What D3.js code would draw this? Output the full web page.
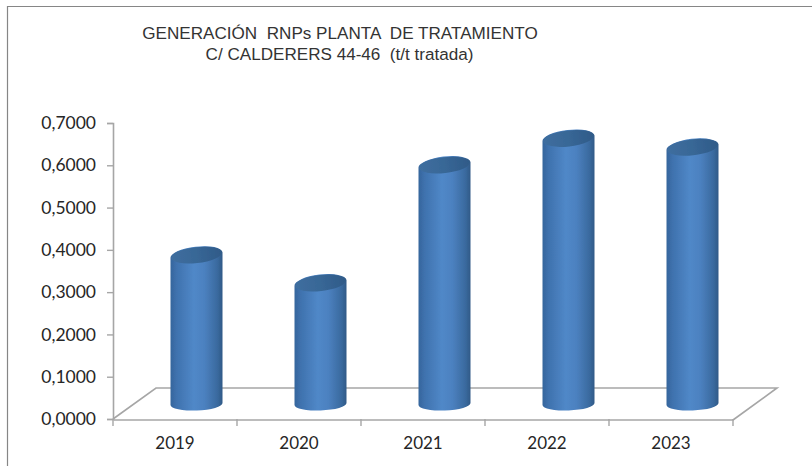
<!DOCTYPE html>
<html><head><meta charset="utf-8">
<script src="https://cdn.jsdelivr.net/npm/d3@7/dist/d3.min.js"></script>
<style>html,body{margin:0;padding:0;background:#fff;overflow:hidden}</style></head>
<body><svg id="c" width="812" height="466"></svg>
<script>
const categories = ["2019","2020","2021","2022","2023"];
const values = [0.352,0.286,0.565,0.628,0.607];
const yTicks = [0,0.1,0.2,0.3,0.4,0.5,0.6,0.7];
const titleLines = ["GENERACIÓN  RNPs PLANTA  DE TRATAMIENTO","C/ CALDERERS 44-46  (t/t tratada)"];

const svg = d3.select("#c");
const W=812,H=466;
const x = d3.scaleBand().domain(categories).range([113,733]);
const y = d3.scaleLinear().domain([0,0.7]).range([419,123]);
const depthX = 43, depthY = -31;
const axisCol = "#a6a6a6";

svg.append("rect").attr("width",W).attr("height",H).attr("fill","#fff");
svg.append("path").attr("d",`M7.5,${H}V6.5H${W}`).attr("fill","none").attr("stroke","#868686").attr("stroke-width",1.2);

const defs = svg.append("defs");
const g1 = defs.append("linearGradient").attr("id","body").attr("x1",0).attr("x2",1).attr("y1",0).attr("y2",0);
[[0,"#35659c"],[0.12,"#3f72ae"],[0.45,"#5088c8"],[0.65,"#4c81c0"],[0.9,"#3a6a9f"],[1,"#315a87"]]
  .forEach(d=>g1.append("stop").attr("offset",d[0]).attr("stop-color",d[1]));
const g2 = defs.append("linearGradient").attr("id","cap").attr("x1",0).attr("x2",1).attr("y1",0).attr("y2",0);
[[0,"#3f6e9f"],[0.5,"#386796"],[1,"#2f5a88"]]
  .forEach(d=>g2.append("stop").attr("offset",d[0]).attr("stop-color",d[1]));
const f = defs.append("filter").attr("id","soft").attr("x","-10%").attr("y","-10%").attr("width","120%").attr("height","120%");
f.append("feGaussianBlur").attr("stdDeviation",0.6);

// floor
const x0=x.range()[0], x1=x.range()[1], y0=y(0);
const floor=d3.path();
floor.moveTo(x0,y0);floor.lineTo(x0+depthX,y0+depthY);floor.lineTo(x1+depthX+1,y0+depthY);floor.lineTo(x1,y0+1);
svg.append("path").attr("d",floor.toString()).attr("fill","none").attr("stroke",axisCol).attr("stroke-width",1.6);

// axes
const yAxis = svg.append("g").attr("transform",`translate(${x0},0)`)
  .call(d3.axisLeft(y).tickValues(yTicks).tickSize(6).tickPadding(11).tickFormat(d=>d3.format(".4f")(d).replace(".",",")));
const xAxis = svg.append("g").attr("transform",`translate(0,${y0+0.5})`)
  .call(d3.axisBottom(x).tickSize(0).tickPadding(17));
xAxis.selectAll(".tick line").remove();
const edges = categories.map(c=>x(c)).concat([x1]);
svg.append("g").selectAll("line").data(edges).join("line")
  .attr("x1",d=>d).attr("x2",d=>d).attr("y1",y0).attr("y2",y0+7)
  .attr("stroke",axisCol).attr("stroke-width",1.4);
svg.selectAll(".domain").attr("stroke",axisCol).attr("stroke-width",1.6);
yAxis.selectAll(".tick line").attr("stroke",axisCol).attr("stroke-width",1.4);
svg.selectAll(".tick text").attr("font-family","Lato, 'Open Sans', sans-serif").attr("font-size",17.5).attr("fill","#262626");
xAxis.selectAll(".tick text").attr("font-size",17);

// cylinders
const rx=26, topRy=8.5, topD=3, botRy=6.5, botD=1;
const cyl = svg.append("g").selectAll("g").data(categories.map((c,i)=>({c,v:values[i]}))).join("g")
  .attr("filter","url(#soft)");
const cx = d=>x(d.c)+x.bandwidth()/2+21.5;
const base = -15;
cyl.append("path").attr("fill","url(#body)").attr("d",d=>{
  const X=cx(d), T=y(d.v)+base, B=y(0)+base;
  return `M${X-rx},${T+topD}A${rx},${topRy} -6.5 1 1 ${X+rx},${T-topD}L${X+rx},${B-botD}A${rx},${botRy} -2.2 1 1 ${X-rx},${B+botD}Z`;
});
cyl.append("ellipse").attr("fill","url(#cap)")
  .attr("cx",d=>cx(d)).attr("cy",d=>y(d.v)+base).attr("rx",rx-0.5).attr("ry",topRy-0.5)
  .attr("transform",d=>`rotate(-6.5 ${cx(d)} ${y(d.v)+base})`);

// title
svg.append("g").selectAll("text").data(titleLines).join("text")
  .attr("x",(d,i)=>i?339.5:340).attr("y",(d,i)=>38.5+i*21)
  .attr("text-anchor","middle").attr("font-family","'Liberation Sans', Arial, sans-serif")
  .attr("font-size",17.1).attr("fill","#333").style("white-space","pre").text(d=>d);
</script></body></html>
